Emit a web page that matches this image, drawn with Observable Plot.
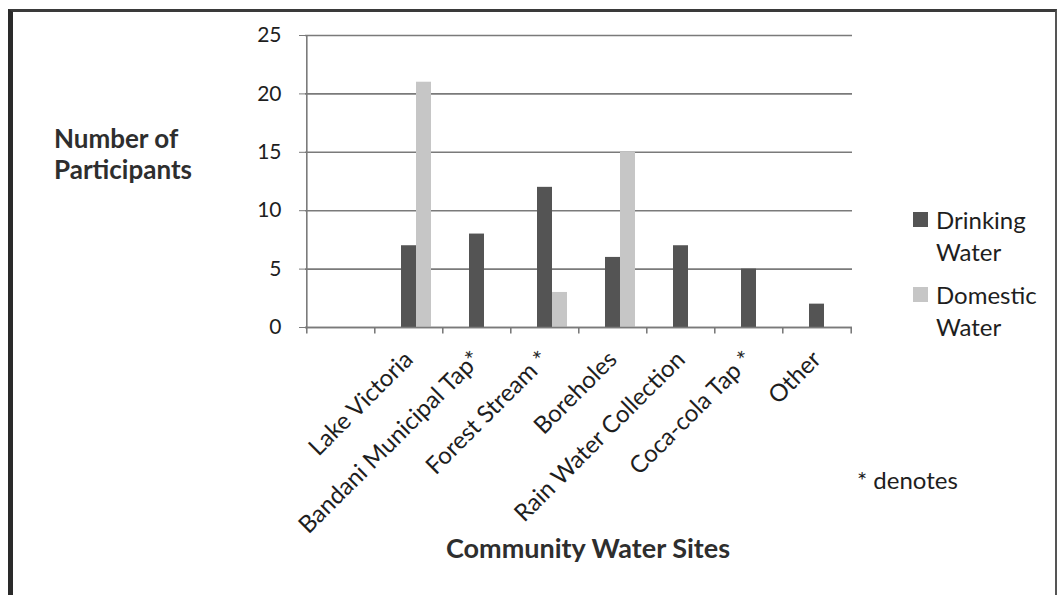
<!DOCTYPE html>
<html>
<head>
<meta charset="utf-8">
<script src="https://cdn.jsdelivr.net/npm/d3@7"></script>
<script src="https://cdn.jsdelivr.net/npm/@observablehq/plot@0.6"></script>
<style>
  html, body { margin: 0; padding: 0; background: #fff; }
  #wrap { position: relative; width: 1060px; height: 595px; overflow: hidden; font-family: Lato, "Open Sans", sans-serif; color: #1e1e1e; }
  #frame { position: absolute; left: 8px; top: 9px; width: 1042px; height: 620px; border-left: 5px solid #2a2a2a; border-top: 3px solid #3a3a3a; border-right: 2px solid #555; }
  #chart { position: absolute; left: 0; top: 0; }
  .ov { position: absolute; white-space: nowrap; }
  .yt { left: 54px; font-weight: bold; font-size: 26px; line-height: 26px; color: #2e2e2e; }
  #ytitle1 { top: 125px; }
  #ytitle2 { top: 156px; }
  #xtitle { left: 388px; width: 400px; text-align: center; top: 532px; font-weight: bold; font-size: 27px; line-height: 32px; color: #2e2e2e; }
  #legend { left: 913px; top: 204px; font-size: 24px; line-height: 32px; }
  .li { display: flex; align-items: flex-start; margin-bottom: 11px; }
  .sw { width: 15px; height: 15px; margin-top: 8px; margin-right: 8px; flex: none; }
  #note { left: 857px; top: 464px; font-size: 24px; line-height: 32px; }
</style>
</head>
<body>
<div id="wrap">
  <div id="chart"></div>
  <div id="frame"></div>
  <div class="ov yt" id="ytitle1">Number of</div>
  <div class="ov yt" id="ytitle2">Participants</div>
  <div class="ov" id="xtitle"></div>
  <div class="ov" id="legend"></div>
  <div class="ov" id="note">* denotes</div>
</div>
<script>
// ---- data ----
const sites = ["", "Lake Victoria", "Bandani Municipal Tap*", "Forest Stream *", "Boreholes", "Rain Water Collection", "Coca-cola Tap *", "Other"];
const drinking = [null, 7, 8, 12, 6, 7, 5, 2];
const domestic = [null, 21, 0, 3, 15, 0, 0, 0];
const series = ["Drinking Water", "Domestic Water"];
const seriesColors = ["#545454", "#c6c6c6"];
const yTicks = [0, 5, 10, 15, 20, 25];
const xTitle = "Community Water Sites";

// ---- layout ----
const W = 1060, H = 595;
const mL = 305, mR = 208, mT = 35, mB = 268;
const step = (W - mL - mR) / sites.length;
const barW = 15;
const pad = 1 - barW / step;

const rows = [];
sites.forEach((s, i) => {
  if (drinking[i] != null) rows.push({site: s, series: series[0], value: drinking[i]});
  if (domestic[i] != null) rows.push({site: s, series: series[1], value: domestic[i]});
});
const drinkRows = rows.filter(d => d.series === series[0]);
const domRows = rows.filter(d => d.series === series[1]);

const chart = Plot.plot({
  width: W,
  height: H,
  marginLeft: mL,
  marginRight: mR,
  marginTop: mT,
  marginBottom: mB,
  style: {fontFamily: "Lato, 'Open Sans', sans-serif", fontSize: "21px", color: "#1e1e1e", background: "transparent"},
  x: {domain: sites, paddingInner: pad, paddingOuter: pad / 2, label: null},
  y: {domain: [0, 25], label: null},
  color: {domain: series, range: seriesColors},
  marks: [
    Plot.gridY(yTicks, {stroke: "#7a7a7a", strokeOpacity: 1, strokeWidth: 1.6}),
    Plot.ruleX([sites[0]], {y1: 0, y2: 25, dx: -step / 2, stroke: "#7a7a7a", strokeWidth: 1.6}),
    Plot.ruleX(sites, {y1: 0, y2: -0.55, dx: -step / 2, stroke: "#6a6a6a", strokeWidth: 1.4}),
    Plot.ruleX([sites[sites.length - 1]], {y1: 0, y2: -0.55, dx: step / 2, stroke: "#6a6a6a", strokeWidth: 1.4}),
    Plot.barY(drinkRows, {x: "site", y: "value", fill: "series"}),
    Plot.barY(domRows, {x: "site", y: "value", fill: "series", dx: barW}),
    Plot.ruleY([0], {stroke: "#7a7a7a", strokeWidth: 1.6}),
    Plot.axisY(yTicks, {tickSize: 6, tickPadding: 18, stroke: "#7a7a7a", fontSize: 21, tickFormat: d => String(d)}),
    Plot.axisX({tickSize: 0, tickPadding: 28, tickRotate: -45, fontSize: 24, label: null})
  ]
});
document.getElementById("chart").appendChild(chart);

document.getElementById("xtitle").textContent = xTitle;

// legend
const lg = document.getElementById("legend");
series.forEach((s, i) => {
  const item = document.createElement("div");
  item.className = "li";
  const sw = document.createElement("div");
  sw.className = "sw";
  sw.style.background = seriesColors[i];
  const tx = document.createElement("div");
  tx.innerHTML = s.replace(" ", "<br>");
  item.appendChild(sw);
  item.appendChild(tx);
  lg.appendChild(item);
});
</script>
</body>
</html>
